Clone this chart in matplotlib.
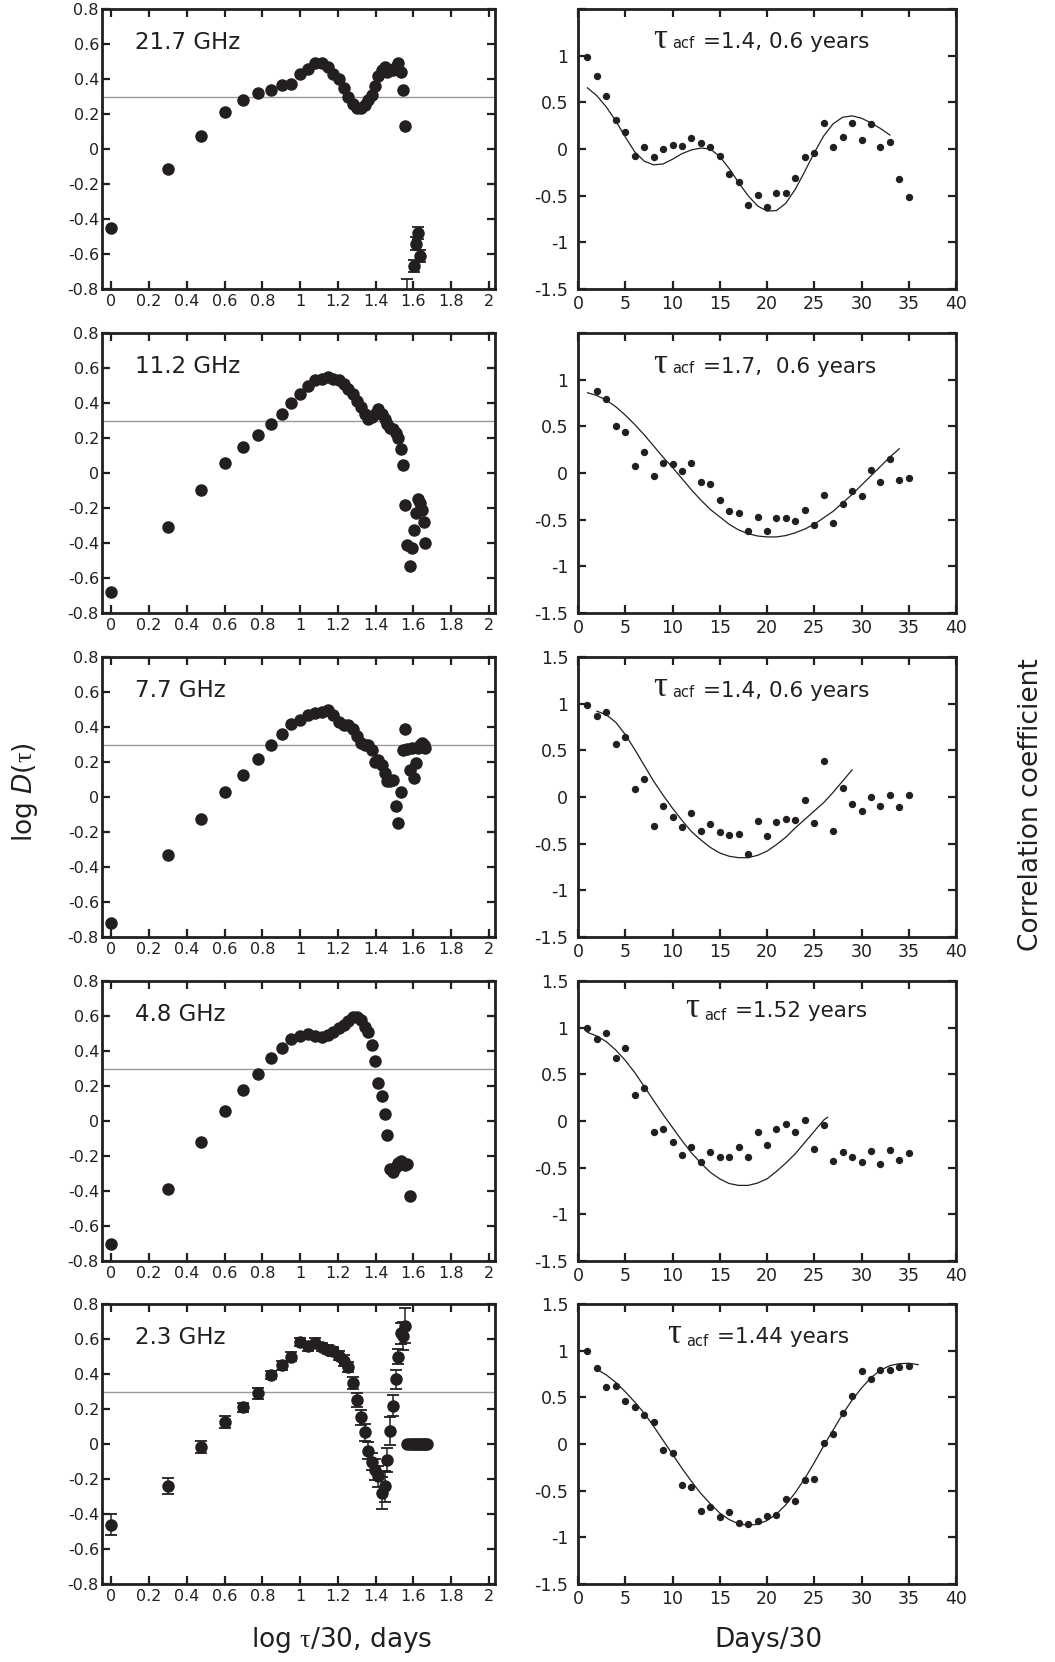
import matplotlib
matplotlib.use('Agg')
import matplotlib.pyplot as plt
import numpy as np
from matplotlib.ticker import FuncFormatter, MultipleLocator

plt.rcParams['font.family'] = ['DejaVu Sans']
plt.rcParams['mathtext.fontset'] = 'custom'
plt.rcParams['mathtext.rm'] = 'Liberation Serif'
plt.rcParams['mathtext.it'] = 'DejaVu Sans:italic'
plt.rcParams['mathtext.sf'] = 'DejaVu Sans'
plt.rcParams['axes.unicode_minus'] = False

INK = '#231f20'

# ---- structure functions (left column), lag in units of 30 days ----
lag_217 = list(range(1, 38)) + [40, 41, 42, 43]
logd_217 = [-0.45, -0.115, 0.074, 0.21, 0.28, 0.32, 0.34, 0.366, 0.37, 0.426,
            0.46, 0.494, 0.49, 0.466, 0.43, 0.40, 0.35, 0.30, 0.255, 0.235,
            0.235, 0.25, 0.28, 0.31, 0.36, 0.42, 0.45, 0.47, 0.44, 0.45,
            0.45, 0.47, 0.49, 0.44, 0.34, 0.13, -0.87,
            -0.67, -0.54, -0.48, -0.61]
err_217 = [0] * 36 + [0.13, 0.035, 0.035, 0.035, 0.035]

lag_112 = list(range(1, 47))
logd_112 = [-0.68, -0.31, -0.095, 0.055, 0.15, 0.22, 0.28, 0.34, 0.40, 0.45,
            0.50, 0.53, 0.54, 0.55, 0.54, 0.53, 0.51, 0.48, 0.45, 0.41,
            0.375, 0.34, 0.31, 0.32, 0.34, 0.365, 0.34, 0.31, 0.28, 0.26,
            0.25, 0.23, 0.20, 0.14, 0.045, -0.18, -0.41, -0.53, -0.43, -0.325,
            -0.23, -0.15, -0.17, -0.21, -0.28, -0.40]

lag_77 = list(range(1, 47))
logd_77 = [-0.72, -0.33, -0.125, 0.03, 0.128, 0.217, 0.30, 0.36, 0.417, 0.44,
           0.47, 0.48, 0.484, 0.50, 0.47, 0.43, 0.41, 0.41, 0.39, 0.35,
           0.31, 0.30, 0.30, 0.27, 0.20, 0.21, 0.185, 0.137, 0.09, 0.09,
           0.10, -0.053, -0.15, 0.027, 0.27, 0.39, 0.275, 0.155, 0.28, 0.11,
           0.195, 0.28, 0.30, 0.31, 0.30, 0.28]

lag_48 = list(range(1, 39))
logd_48 = [-0.70, -0.39, -0.12, 0.057, 0.18, 0.27, 0.36, 0.417, 0.467, 0.487,
           0.497, 0.487, 0.48, 0.49, 0.51, 0.53, 0.55, 0.57, 0.596, 0.596,
           0.577, 0.54, 0.51, 0.434, 0.345, 0.22, 0.145, 0.038, -0.08, -0.276,
           -0.29, -0.26, -0.24, -0.227, -0.24, -0.25, -0.246, -0.43]

lag_23 = list(range(1, 48))
logd_23 = [-0.46, -0.24, -0.017, 0.124, 0.21, 0.29, 0.395, 0.45, 0.50, 0.583,
           0.558, 0.58, 0.555, 0.54, 0.53, 0.505, 0.476, 0.44, 0.35, 0.25,
           0.152, 0.067, -0.038, -0.10, -0.147, -0.185, -0.28, -0.242, -0.09, 0.076,
           0.22, 0.37, 0.50, 0.634, 0.62, 0.676,
           0, 0, 0, 0, 0, 0, 0, 0, 0, 0, 0]
err_23 = [0.06, 0.045, 0.035, 0.035, 0.025, 0.03, 0.025, 0.025, 0.025, 0.025,
          0.025, 0.025, 0.025, 0.025, 0.025, 0.025, 0.03, 0.03, 0.035, 0.04,
          0.045, 0.05, 0.05, 0.05, 0.06, 0.06, 0.09, 0.09, 0.07, 0.08,
          0.06, 0.055, 0.045, 0.06, 0.08, 0.10,
          0, 0, 0, 0, 0, 0, 0, 0, 0, 0, 0]

# ---- autocorrelation (right column), lag in Days/30 ----
day_217 = list(range(1, 36))
acf_217 = [0.99, 0.78, 0.57, 0.31, 0.18, -0.07, 0.02, -0.09, 0.0, 0.047,
           0.03, 0.115, 0.065, 0.025, -0.08, -0.27, -0.356, -0.597, -0.496, -0.62,
           -0.468, -0.468, -0.31, -0.09, -0.04, 0.28, 0.025, 0.133, 0.28, 0.097,
           0.27, 0.025, 0.07, -0.32, -0.515]
fitx_217 = list(range(1, 34))
fity_217 = [0.655, 0.57, 0.45, 0.30, 0.13, -0.03, -0.13, -0.17, -0.16, -0.11,
            -0.05, -0.01, 0.01, 0.0, -0.08, -0.21, -0.36, -0.50, -0.61, -0.665,
            -0.66, -0.58, -0.43, -0.24, -0.04, 0.14, 0.27, 0.34, 0.355, 0.33,
            0.28, 0.22, 0.15]

day_112 = list(range(2, 36))
acf_112 = [0.875, 0.796, 0.507, 0.443, 0.075, 0.225, -0.03, 0.107, 0.1, 0.02,
           0.11, -0.1, -0.114, -0.293, -0.407, -0.43, -0.618, -0.47, -0.618, -0.486,
           -0.486, -0.514, -0.40, -0.557, -0.236, -0.536, -0.33, -0.196, -0.246, 0.036,
           -0.096, 0.15, -0.071, -0.057]
fitx_112 = list(range(1, 35))
fity_112 = [0.86, 0.83, 0.78, 0.71, 0.62, 0.52, 0.41, 0.29, 0.17, 0.06,
            -0.06, -0.18, -0.29, -0.39, -0.47, -0.55, -0.61, -0.65, -0.675, -0.685,
            -0.685, -0.67, -0.64, -0.60, -0.55, -0.48, -0.41, -0.32, -0.23, -0.13,
            -0.03, 0.07, 0.17, 0.26]

day_77 = list(range(1, 36))
acf_77 = [0.99, 0.87, 0.914, 0.568, 0.643, 0.082, 0.196, -0.31, -0.096, -0.214,
          -0.325, -0.168, -0.36, -0.29, -0.38, -0.41, -0.40, -0.607, -0.257, -0.42,
          -0.264, -0.232, -0.246, -0.036, -0.282, 0.382, -0.368, 0.1, -0.075, -0.15,
          0.0, -0.096, 0.025, -0.104, 0.018]
fitx_77 = list(range(2, 30))
fity_77 = [0.92, 0.88, 0.80, 0.67, 0.51, 0.34, 0.17, 0.02, -0.12, -0.25,
           -0.37, -0.46, -0.54, -0.60, -0.635, -0.65, -0.65, -0.625, -0.58, -0.51,
           -0.43, -0.33, -0.24, -0.15, -0.06, 0.05, 0.17, 0.29]

day_48 = list(range(1, 36))
acf_48 = [1.0, 0.88, 0.94, 0.68, 0.786, 0.275, 0.35, -0.12, -0.086, -0.23,
          -0.368, -0.28, -0.44, -0.33, -0.39, -0.39, -0.28, -0.386, -0.114, -0.26,
          -0.09, -0.03, -0.114, 0.007, -0.30, -0.046, -0.43, -0.33, -0.386, -0.44,
          -0.325, -0.464, -0.31, -0.414, -0.34]
fitx_48 = list(range(1, 27)) + [26.4]
fity_48 = [0.95, 0.91, 0.85, 0.76, 0.65, 0.52, 0.37, 0.22, 0.07, -0.07,
           -0.21, -0.34, -0.45, -0.55, -0.62, -0.67, -0.69, -0.69, -0.665, -0.62,
           -0.54, -0.45, -0.35, -0.23, -0.11, 0.01, 0.04]

day_23 = list(range(1, 36))
acf_23 = [1.0, 0.81, 0.61, 0.62, 0.46, 0.40, 0.31, 0.237, -0.065, -0.10,
          -0.437, -0.46, -0.72, -0.674, -0.785, -0.728, -0.846, -0.857, -0.824, -0.77,
          -0.76, -0.584, -0.606, -0.39, -0.376, 0.007, 0.104, 0.333, 0.513, 0.78,
          0.70, 0.79, 0.79, 0.82, 0.835]
fitx_23 = list(range(2, 37))
fity_23 = [0.80, 0.74, 0.66, 0.56, 0.45, 0.33, 0.19, 0.04, -0.11, -0.26,
           -0.40, -0.53, -0.64, -0.74, -0.81, -0.855, -0.87, -0.86, -0.82, -0.75,
           -0.65, -0.52, -0.37, -0.20, -0.02, 0.15, 0.32, 0.47, 0.60, 0.71,
           0.79, 0.84, 0.86, 0.865, 0.85]

bands = ['21.7 GHz', '11.2 GHz', '7.7 GHz', '4.8 GHz', '2.3 GHz']
acf_notes = ['=1.4, 0.6 years', '=1.7,  0.6 years', '=1.4, 0.6 years',
             '=1.52 years', '=1.44 years']

left_sets = [(lag_217, logd_217, err_217), (lag_112, logd_112, None),
             (lag_77, logd_77, None), (lag_48, logd_48, None),
             (lag_23, logd_23, err_23)]
right_sets = [(day_217, acf_217, fitx_217, fity_217),
              (day_112, acf_112, fitx_112, fity_112),
              (day_77, acf_77, fitx_77, fity_77),
              (day_48, acf_48, fitx_48, fity_48),
              (day_23, acf_23, fitx_23, fity_23)]

W, H = 1055, 1662
fig = plt.figure(figsize=(W / 100, H / 100), dpi=100)

tops = [9, 333, 657, 981, 1304]
ph = 280
note_x = [0.198, 0.198, 0.198, 0.283, 0.235]
note_y = [0.862, 0.858, 0.860, 0.872, 0.862]


def style(ax, size, pad_y, pad_x):
    for s in ax.spines.values():
        s.set_linewidth(2.0)
        s.set_color(INK)
    ax.tick_params(direction='in', top=True, right=True, length=5.5, width=1.6,
                   color=INK, labelcolor=INK, labelsize=size)
    ax.tick_params(axis='y', pad=pad_y)
    ax.tick_params(axis='x', pad=pad_x)


for i in range(5):
    bottom = 1 - (tops[i] + ph) / H

    # left: log D(tau)
    axl = fig.add_axes([101.7 / W, bottom, 393 / W, ph / H])
    lag, logd, err = left_sets[i]
    x = np.log10(lag)
    y = np.array(logd)
    if err is not None:
        e = np.array(err)
        has = e > 0
        axl.errorbar(x[has], y[has], yerr=e[has], fmt='none', ecolor=INK,
                     elinewidth=1.1, capsize=4.5, capthick=1.3)
    axl.plot(x, y, 'o', ms=9, color=INK, mew=0)
    axl.axhline(0.3, color='#9a9a9a', lw=1.0, zorder=0)
    axl.set_xlim(-0.05, 2.03)
    axl.set_ylim(-0.8, 0.8)
    axl.xaxis.set_major_locator(MultipleLocator(0.2))
    axl.yaxis.set_major_locator(MultipleLocator(0.2))
    axl.xaxis.set_major_formatter(FuncFormatter(lambda v, p: '%g' % round(v, 2)))
    axl.yaxis.set_major_formatter(FuncFormatter(lambda v, p: '%g' % round(v, 2)))
    style(axl, 11.5, 2, 3.5)
    axl.text(0.085, 0.857, bands[i], transform=axl.transAxes, fontsize=16.5,
             color=INK, va='baseline')

    # right: autocorrelation
    axr = fig.add_axes([578 / W, bottom, 378 / W, ph / H])
    day, acf, fx, fy = right_sets[i]
    axr.plot(day, acf, 'o', ms=5.3, color=INK, mew=0)
    axr.plot(fx, fy, '-', color=INK, lw=0.9)
    axr.set_xlim(0, 40)
    axr.set_ylim(-1.5, 1.5)
    axr.xaxis.set_major_locator(MultipleLocator(5))
    axr.yaxis.set_major_locator(MultipleLocator(0.5))
    axr.xaxis.set_major_formatter(FuncFormatter(lambda v, p: '%g' % v))
    if i < 2:
        axr.yaxis.set_major_formatter(
            FuncFormatter(lambda v, p: '' if v > 1.4 else '%g' % v))
    else:
        axr.yaxis.set_major_formatter(FuncFormatter(lambda v, p: '%g' % v))
    style(axr, 12.5, 7, 4)

    t1 = axr.text(note_x[i], note_y[i], 'τ', transform=axr.transAxes,
                  family='Liberation Serif', fontsize=25, color=INK, va='baseline')
    sub = 0 if i < 3 else 2
    t2 = axr.annotate('acf', xy=(1, 0), xycoords=t1, xytext=(4, 5.4 - sub),
                      textcoords='offset points', fontsize=10.5, color=INK,
                      va='baseline')
    axr.annotate(acf_notes[i], xy=(1, 0), xycoords=(t2, t1), xytext=(6, 5.4),
                 textcoords='offset points', fontsize=15.5, color=INK,
                 va='baseline')

fig.text(25 / W, 1 - 792 / H, 'log $D$($\\mathrm{\\tau}$)', rotation=90,
         fontsize=19, color=INK, ha='center', va='center')
fig.text(1031 / W, 1 - 805 / H, 'Correlation coefficient', rotation=90,
         fontsize=19, color=INK, ha='center', va='center')
fig.text(342 / W, 1 - 1640 / H, 'log $\\mathrm{\\tau}$/30, days',
         fontsize=19, color=INK, ha='center', va='center')
fig.text(768 / W, 1 - 1640 / H, 'Days/30',
         fontsize=19, color=INK, ha='center', va='center')

fig.savefig('out.png', dpi=100)
